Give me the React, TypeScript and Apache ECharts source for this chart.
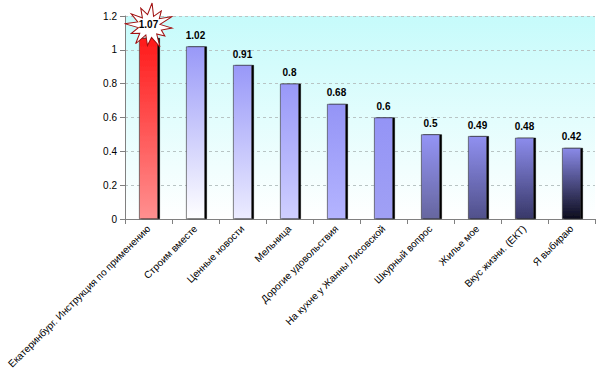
import React, { useEffect, useRef } from "react";
import * as echarts from "echarts";

const categories = [
  "Екатеринбург. Инструкция по применению",
  "Строим вместе",
  "Ценные новости",
  "Мельница",
  "Дорогие удовольствия",
  "На кухне у Жанны Лисовской",
  "Шкурный вопрос",
  "Жилье мое",
  "Вкус жизни. (ЕКТ)",
  "Я выбираю",
];
const values = [1.07, 1.02, 0.91, 0.8, 0.68, 0.6, 0.5, 0.49, 0.48, 0.42];
const topColors = ["#ff1a1a", "#9898f8", "#9898f8", "#9898f8", "#9494f6", "#9494f6", "#9494f6", "#9090f0", "#8c8cec", "#8a8ae8"];
const bottomColors = ["#ff9090", "#ffffff", "#ececff", "#cfcfff", "#b4b4ff", "#a0a0f4", "#66669f", "#50508a", "#383868", "#0c0c1c"];
const yTicks = [0, 0.2, 0.4, 0.6, 0.8, 1, 1.2];

function starPath(): string {
  const radii = [1, 0.45, 0.8, 0.5, 1, 0.42, 0.9, 0.5, 0.75, 0.45, 1, 0.5, 0.85, 0.42, 0.95, 0.5, 0.8, 0.45, 1, 0.5, 0.9, 0.45, 0.85, 0.5];
  const n = radii.length;
  const pts: string[] = [];
  for (let i = 0; i < n; i++) {
    const a = (i / n) * Math.PI * 2 - Math.PI / 2 + 0.1;
    const x = 50 + Math.cos(a) * 50 * radii[i];
    const y = 50 + Math.sin(a) * 50 * radii[i];
    pts.push((i === 0 ? "M" : "L") + x.toFixed(1) + " " + y.toFixed(1));
  }
  return "path://" + pts.join(" ") + " Z";
}

export default function App() {
  const ref = useRef<HTMLDivElement>(null);
  useEffect(() => {
    if (!ref.current) return;
    const chart = echarts.init(ref.current, undefined, { renderer: "svg" });
    const data = values.map((v, i) => ({
      value: v,
      itemStyle: {
        color: new echarts.graphic.LinearGradient(0, 0, 0, 1, [
          { offset: 0, color: topColors[i] },
          { offset: 1, color: bottomColors[i] },
        ]),
      },
      label: i === 0 ? { show: false } : undefined,
    }));
    chart.setOption({
      animation: false,
      textStyle: { fontFamily: "Liberation Sans, Arial, sans-serif" },
      grid: {
        left: 125,
        right: 10,
        top: 16,
        bottom: 157,
        show: true,
        borderWidth: 0,
        backgroundColor: new echarts.graphic.LinearGradient(0, 0, 0, 1, [
          { offset: 0, color: "#c6fbfb" },
          { offset: 1, color: "#ffffff" },
        ]),
      },
      xAxis: {
        type: "category",
        data: categories,
        axisLine: { lineStyle: { color: "#808080" } },
        axisTick: { show: true, lineStyle: { color: "#808080" } },
        axisLabel: {
          rotate: 45,
          interval: 0,
          fontSize: 10,
          color: "#000",
          margin: 8,
        },
      },
      yAxis: {
        type: "value",
        min: 0,
        max: 1.2,
        interval: 0.2,
        axisLine: { show: true, lineStyle: { color: "#808080" } },
        axisTick: { show: true, lineStyle: { color: "#808080" } },
        axisLabel: {
          fontSize: 10,
          color: "#000",
          formatter: (v: number) => {
            const t = yTicks.find((x) => Math.abs(x - v) < 1e-6);
            return String(t !== undefined ? t : v);
          },
        },
        splitLine: { lineStyle: { color: "#b8c4c4", type: [3, 3] } },
      },
      series: [
        {
          type: "bar",
          data,
          barWidth: "40%",
          itemStyle: {
            borderColor: "#333",
            borderWidth: 0.6,
            shadowColor: "#000",
            shadowOffsetX: 2,
            shadowOffsetY: 0,
            shadowBlur: 0,
          },
          label: {
            show: true,
            position: "top",
            fontSize: 10,
            fontWeight: "bold",
            color: "#000",
            distance: 6,
          },
          markPoint: {
            symbol: starPath(),
            symbolSize: [48, 44],
            symbolOffset: [0, -13],
            itemStyle: { color: "#ffffff", borderColor: "#a01010", borderWidth: 1 },
            label: { show: true, fontSize: 10, fontWeight: "bold", color: "#000", formatter: "{c}" },
            data: [{ coord: [0, values[0]], value: values[0] }],
          },
        },
      ],
    });
    return () => chart.dispose();
  }, []);
  return <div ref={ref} style={{ width: 605, height: 376, position: "absolute", left: 0, top: 0 }} />;
}
